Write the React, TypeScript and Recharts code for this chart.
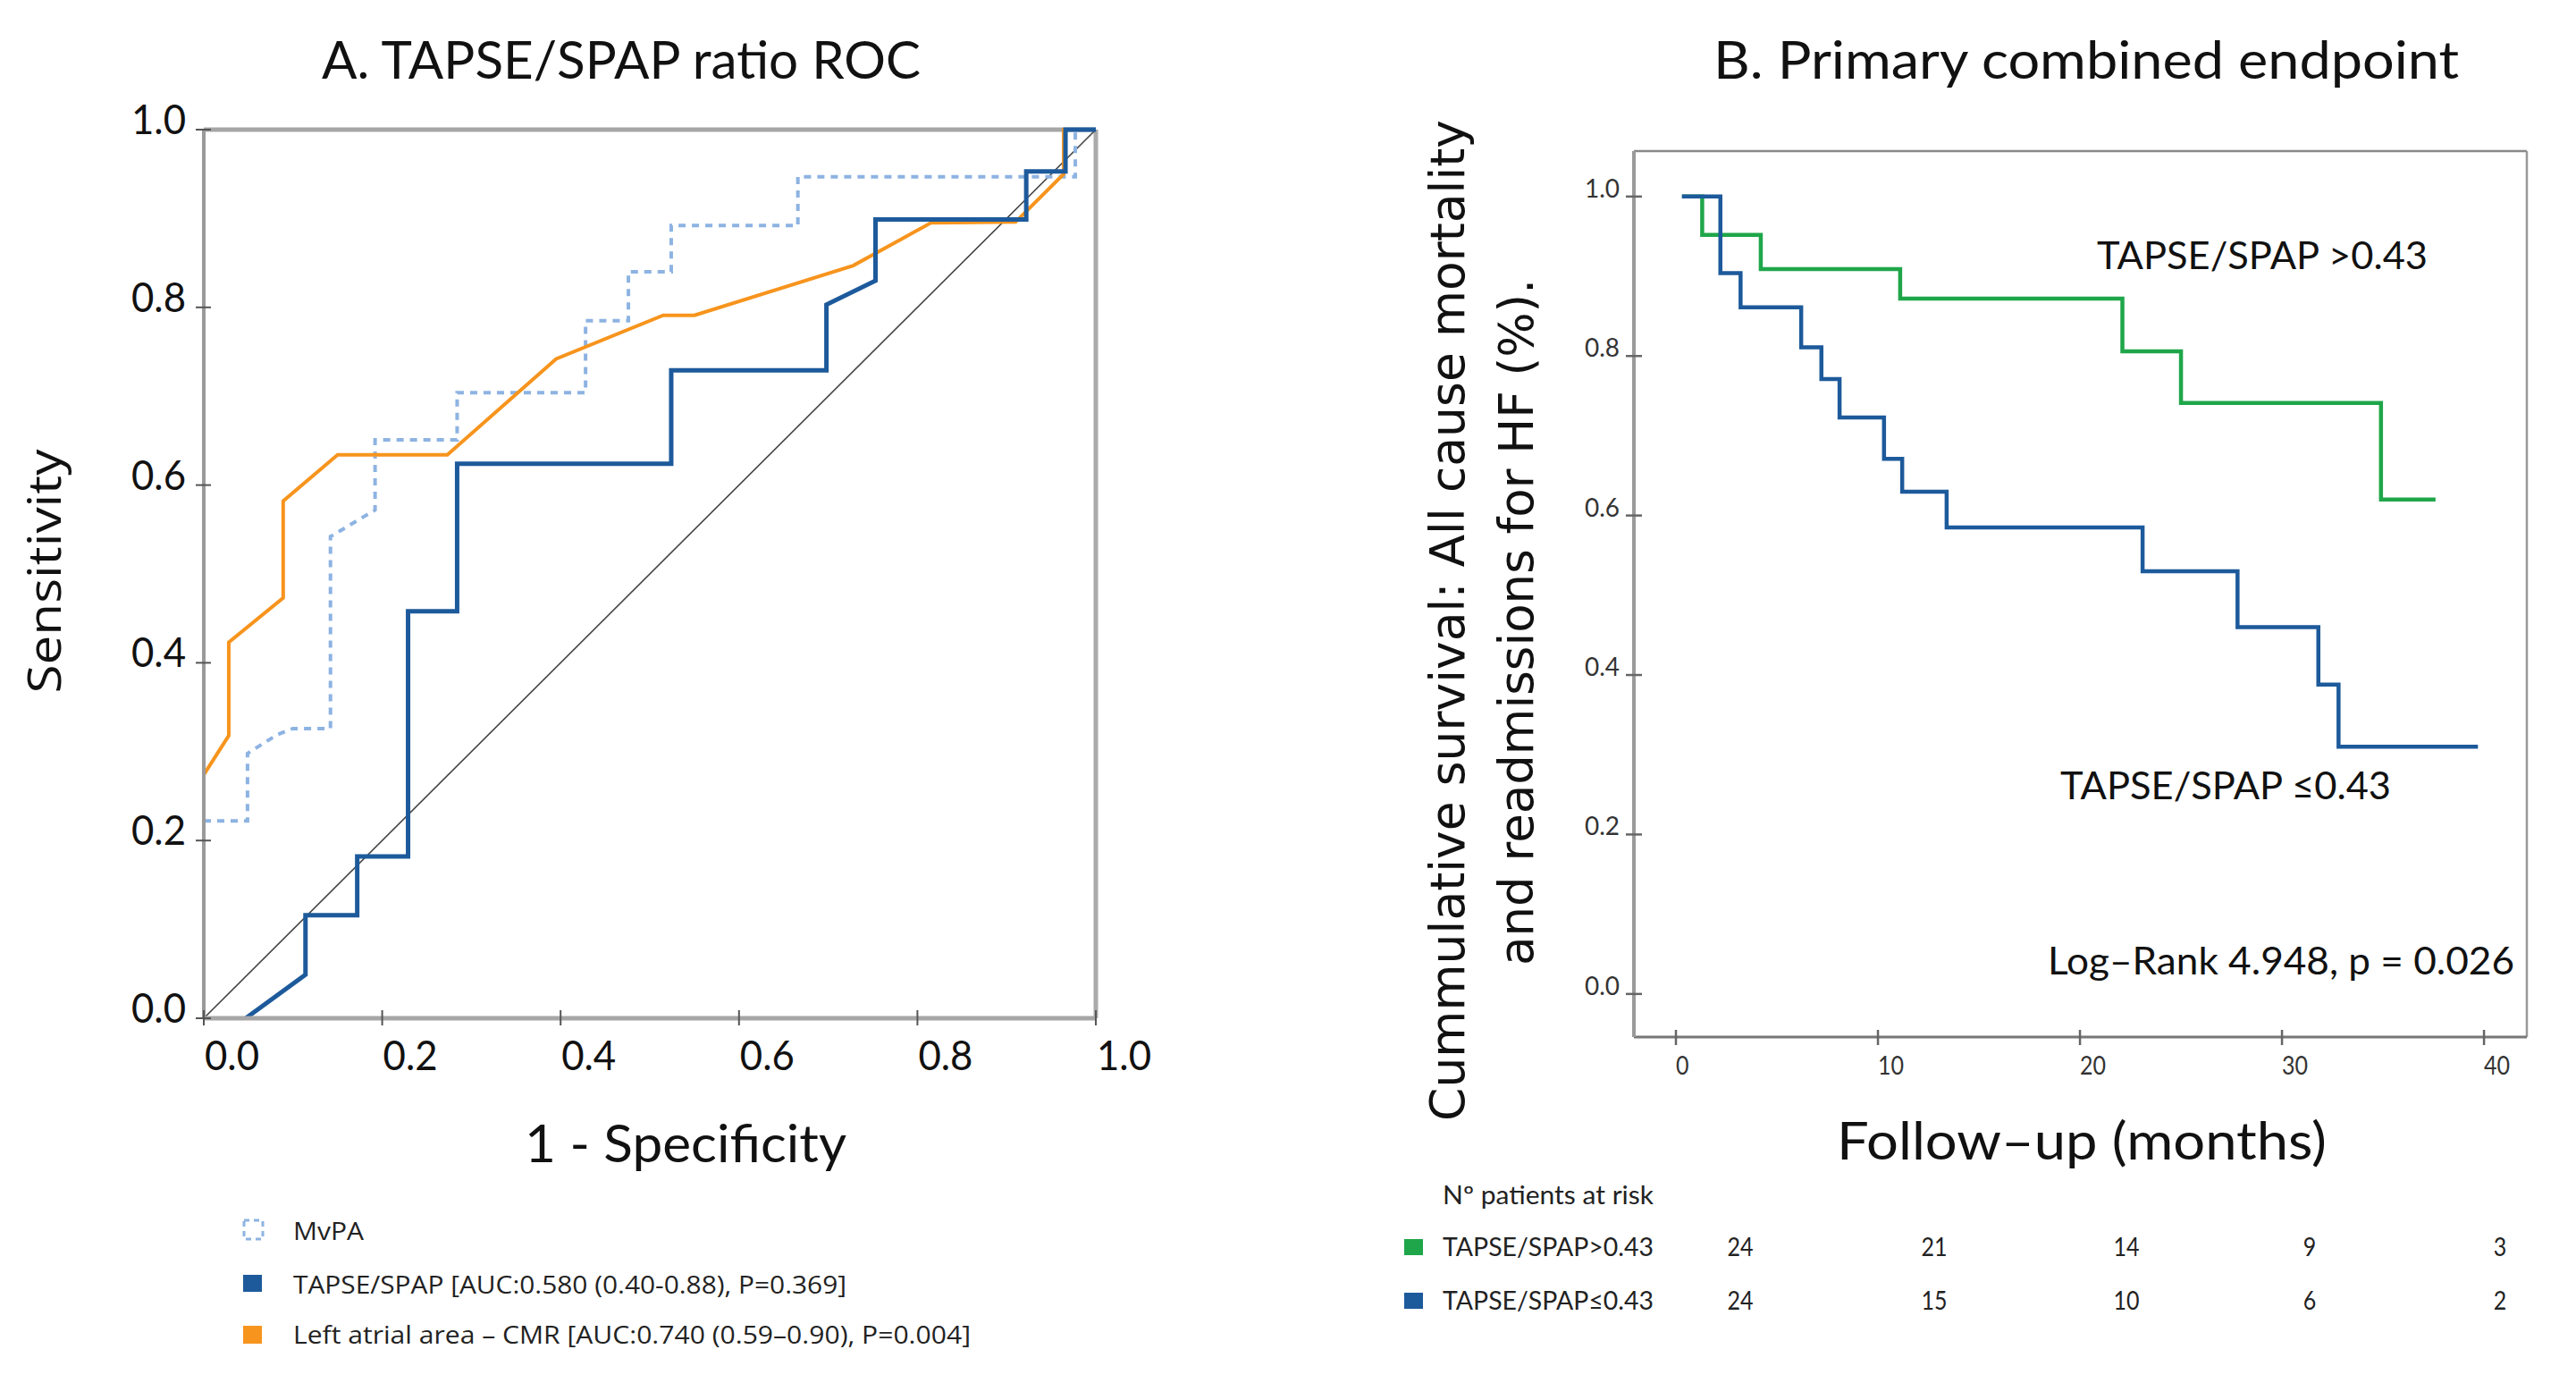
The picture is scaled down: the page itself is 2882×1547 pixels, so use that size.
import React from "react";
import { LineChart, Line, XAxis, YAxis, ReferenceLine } from "recharts";

// ---- Panel A: ROC curves (1 - specificity vs sensitivity) ----
const rocTicks = [0, 0.2, 0.4, 0.6, 0.8, 1.0];

const mvpaFpr = [0, 0.049, 0.049, 0.082, 0.1, 0.142, 0.142, 0.192, 0.192, 0.284, 0.284, 0.428, 0.428, 0.476, 0.476, 0.524, 0.524, 0.666, 0.666, 0.977, 0.977, 1];
const mvpaSens = [0.222, 0.222, 0.298, 0.319, 0.326, 0.326, 0.542, 0.572, 0.651, 0.651, 0.704, 0.704, 0.785, 0.785, 0.84, 0.84, 0.892, 0.892, 0.947, 0.947, 1, 1];

const tapseFpr = [0.047, 0.114, 0.114, 0.172, 0.172, 0.229, 0.229, 0.284, 0.284, 0.524, 0.524, 0.698, 0.698, 0.753, 0.753, 0.922, 0.922, 0.966, 0.966, 1];
const tapseSens = [0, 0.049, 0.116, 0.116, 0.182, 0.182, 0.458, 0.458, 0.624, 0.624, 0.729, 0.729, 0.803, 0.83, 0.899, 0.899, 0.953, 0.953, 1, 1];

const laFpr = [0, 0.028, 0.028, 0.089, 0.089, 0.15, 0.273, 0.395, 0.515, 0.55, 0.728, 0.815, 0.91, 0.964, 0.964, 1];
const laSens = [0.274, 0.318, 0.423, 0.473, 0.582, 0.634, 0.634, 0.742, 0.791, 0.791, 0.847, 0.895, 0.896, 0.95, 1, 1];

const chance = [0, 1];

// ---- Panel B: Kaplan-Meier ----
const kmXTicks = [0, 10, 20, 30, 40];
const kmYTicks = [0, 0.2, 0.4, 0.6, 0.8, 1.0];

const highMonths = [0.3, 1.3, 4.2, 11.1, 22.1, 25.0, 34.9, 37.6];
const highSurv = [1, 0.952, 0.909, 0.872, 0.806, 0.741, 0.62, 0.62];

const lowMonths = [0.3, 2.2, 3.2, 6.2, 7.2, 8.1, 10.3, 11.2, 13.4, 23.1, 27.8, 31.8, 32.8, 39.7];
const lowSurv = [1, 0.904, 0.861, 0.811, 0.771, 0.723, 0.671, 0.63, 0.585, 0.53, 0.46, 0.388, 0.31, 0.31];

const riskHigh = [24, 21, 14, 9, 3];
const riskLow = [24, 15, 10, 6, 2];

// layout
const W = 2882;
const H = 1547;
const riskColX = [1947, 2164, 2379, 2584, 2797];
const CAL = "Lato, 'Open Sans', sans-serif";
const SANS = "'Open Sans', sans-serif";
const VERD = "'DejaVu Sans', sans-serif";

const BLUE = "#1d5a9b";
const ORANGE = "#f7941d";
const LIGHT = "#8db3e2";
const GREEN = "#1fa64a";

const zip = (xs: number[], ys: number[]) => xs.map((x, i) => ({ x, y: ys[i] }));

function RocXTick(props: any) {
  const { x, y, payload } = props;
  return (
    <g>
      <line x1={x} x2={x} y1={y - 9} y2={y + 8} stroke="#555" strokeWidth={2} />
      <text x={x + 1} y={y + 58} fontFamily={CAL} fontSize={46} fill="#111" textLength={61} lengthAdjust="spacingAndGlyphs">
        {Number(payload.value).toFixed(1)}
      </text>
    </g>
  );
}

function RocYTick(props: any) {
  const { x, y, payload } = props;
  return (
    <g>
      <line x1={x - 9} x2={x + 8} y1={y} y2={y} stroke="#555" strokeWidth={2} />
      <text x={x - 20} y={y + 5} textAnchor="end" fontFamily={CAL} fontSize={46} fill="#111" textLength={61} lengthAdjust="spacingAndGlyphs">
        {Number(payload.value).toFixed(1)}
      </text>
    </g>
  );
}

function KmXTick(props: any) {
  const { x, y, payload } = props;
  const s = String(payload.value);
  return (
    <g>
      <line x1={x} x2={x} y1={y - 8} y2={y + 9} stroke="#666" strokeWidth={2.5} />
      <text x={x} y={y + 42} fontFamily={CAL} fontSize={28} fill="#333" textLength={s.length * 14.5} lengthAdjust="spacingAndGlyphs">
        {s}
      </text>
    </g>
  );
}

function KmYTick(props: any) {
  const { x, y, payload } = props;
  return (
    <g>
      <line x1={x - 9} x2={x + 9} y1={y} y2={y} stroke="#666" strokeWidth={2.5} />
      <text x={x - 16} y={y + 1} textAnchor="end" fontFamily={CAL} fontSize={28} fill="#333" textLength={39} lengthAdjust="spacingAndGlyphs">
        {Number(payload.value).toFixed(1)}
      </text>
    </g>
  );
}

function RocChart() {
  return (
    <LineChart width={1441} height={H} margin={{ top: 145, left: 168, right: 215, bottom: 378 }} style={{ position: "absolute", left: 0, top: 0 }}>
      <XAxis type="number" dataKey="x" domain={[0, 1]} ticks={rocTicks} height={30} tickSize={0} tickMargin={0} tickLine={false}
        axisLine={{ stroke: "#a6a6a6", strokeWidth: 5 }} tick={(p: any) => <RocXTick {...p} />} />
      <YAxis type="number" dataKey="y" domain={[0, 1]} ticks={rocTicks} width={60} tickSize={0} tickMargin={0} tickLine={false}
        axisLine={{ stroke: "#9a9a9a", strokeWidth: 4 }} tick={(p: any) => <RocYTick {...p} />} />
      <ReferenceLine y={1} stroke="#a6a6a6" strokeWidth={5} />
      <ReferenceLine x={1} stroke="#aaaaaa" strokeWidth={5} />
      <Line data={zip(chance, chance)} dataKey="y" type="linear" stroke="#444" strokeWidth={1.6} dot={false} isAnimationActive={false} />
      <Line data={zip(mvpaFpr, mvpaSens)} dataKey="y" type="linear" stroke={LIGHT} strokeWidth={4} strokeDasharray="8 7" dot={false} isAnimationActive={false} />
      <Line data={zip(laFpr, laSens)} dataKey="y" type="linear" stroke={ORANGE} strokeWidth={4} dot={false} isAnimationActive={false} />
      <Line data={zip(tapseFpr, tapseSens)} dataKey="y" type="linear" stroke={BLUE} strokeWidth={5} dot={false} isAnimationActive={false} />
    </LineChart>
  );
}

function KmChart() {
  return (
    <LineChart width={1441} height={H} margin={{ top: 169, left: 327, right: 55, bottom: 357 }} style={{ position: "absolute", left: 1441, top: 0 }}>
      <XAxis type="number" dataKey="x" domain={[-2.08, 42.12]} ticks={kmXTicks} height={30} tickSize={0} tickMargin={0} tickLine={false}
        axisLine={{ stroke: "#777", strokeWidth: 3 }} tick={(p: any) => <KmXTick {...p} />} />
      <YAxis type="number" dataKey="y" domain={[-0.054, 1.057]} ticks={kmYTicks} width={60} tickSize={0} tickMargin={0} tickLine={false}
        axisLine={{ stroke: "#9a9a9a", strokeWidth: 4 }} tick={(p: any) => <KmYTick {...p} />} />
      <ReferenceLine y={1.057} stroke="#888" strokeWidth={2.5} />
      <ReferenceLine x={42.12} stroke="#999" strokeWidth={2.5} />
      <Line data={zip(highMonths, highSurv)} dataKey="y" type="stepAfter" stroke={GREEN} strokeWidth={4.5} dot={false} isAnimationActive={false} />
      <Line data={zip(lowMonths, lowSurv)} dataKey="y" type="stepAfter" stroke={BLUE} strokeWidth={4.5} dot={false} isAnimationActive={false} />
    </LineChart>
  );
}

function Texts() {
  const fit = { lengthAdjust: "spacingAndGlyphs" as const };
  return (
    <svg width={W} height={H} style={{ position: "absolute", left: 0, top: 0, pointerEvents: "none" }}>
      {/* Panel A */}
      <text x={695} y={88} textAnchor="middle" fontFamily={CAL} fontSize={58} fill="#111" textLength={670} {...fit}>A. TAPSE/SPAP ratio ROC</text>
      <text transform="translate(68,639) rotate(-90)" textAnchor="middle" fontFamily={SANS} fontSize={52} fill="#111" textLength={273} {...fit}>Sensitivity</text>
      <text x={767} y={1300} textAnchor="middle" fontFamily={CAL} fontSize={58} fill="#111" textLength={360} {...fit}>1 - Specificity</text>

      <rect x={273} y={1365} width={21} height={21} fill="none" stroke={LIGHT} strokeWidth={3} strokeDasharray="6 5" />
      <text x={328} y={1387} fontFamily={SANS} fontSize={27} fill="#222" textLength={79} {...fit}>MvPA</text>
      <rect x={272} y={1426} width={21} height={19} fill={BLUE} />
      <text x={328} y={1447} fontFamily={SANS} fontSize={27} fill="#222" textLength={619} {...fit}>TAPSE/SPAP [AUC:0.580 (0.40-0.88), P=0.369]</text>
      <rect x={272} y={1483} width={21} height={20} fill={ORANGE} />
      <text x={328} y={1503} fontFamily={SANS} fontSize={27} fill="#222" textLength={758} {...fit}>Left atrial area – CMR [AUC:0.740 (0.59–0.90), P=0.004]</text>

      {/* Panel B */}
      <text x={2334} y={88} textAnchor="middle" fontFamily={CAL} fontSize={58} fill="#111" textLength={834} {...fit}>B. Primary combined endpoint</text>
      <text transform="translate(1638,694) rotate(-90)" textAnchor="middle" fontFamily={VERD} fontSize={53} fill="#111" textLength={1120} {...fit}>Cummulative survival: All cause mortality</text>
      <text transform="translate(1715,696) rotate(-90)" textAnchor="middle" fontFamily={VERD} fontSize={53} fill="#111" textLength={768} {...fit}>and readmissions for HF (%).</text>

      <text x={2346} y={301} fontFamily={CAL} fontSize={43} fill="#111" textLength={370} {...fit}>TAPSE/SPAP &gt;0.43</text>
      <text x={2305} y={894} fontFamily={CAL} fontSize={43} fill="#111" textLength={370} {...fit}>TAPSE/SPAP ≤0.43</text>
      <text x={2291} y={1090} fontFamily={CAL} fontSize={43} fill="#111" textLength={522} {...fit}>Log–Rank 4.948, p = 0.026</text>
      <text x={2329} y={1297} textAnchor="middle" fontFamily={CAL} fontSize={58} fill="#111" textLength={548} {...fit}>Follow–up (months)</text>

      <text x={1614} y={1347} fontFamily={CAL} fontSize={28} fill="#222" textLength={236} {...fit}>Nº patients at risk</text>
      <rect x={1571} y={1386} width={21} height={18} fill={GREEN} />
      <text x={1614} y={1405} fontFamily={CAL} fontSize={28} fill="#222" textLength={236} {...fit}>TAPSE/SPAP&gt;0.43</text>
      <rect x={1571} y={1446} width={21} height={18} fill={BLUE} />
      <text x={1614} y={1465} fontFamily={CAL} fontSize={28} fill="#222" textLength={236} {...fit}>TAPSE/SPAP≤0.43</text>
      {riskHigh.map((n, i) => (
        <text key={"h" + i} x={riskColX[i]} y={1405} textAnchor="middle" fontFamily={CAL} fontSize={28} fill="#222" textLength={String(n).length * 14.5} {...fit}>{n}</text>
      ))}
      {riskLow.map((n, i) => (
        <text key={"l" + i} x={riskColX[i]} y={1465} textAnchor="middle" fontFamily={CAL} fontSize={28} fill="#222" textLength={String(n).length * 14.5} {...fit}>{n}</text>
      ))}
    </svg>
  );
}

export default function App() {
  return (
    <div style={{ position: "absolute", left: 0, top: 0, width: W, height: H, background: "#fff" }}>
      <RocChart />
      <KmChart />
      <Texts />
    </div>
  );
}
